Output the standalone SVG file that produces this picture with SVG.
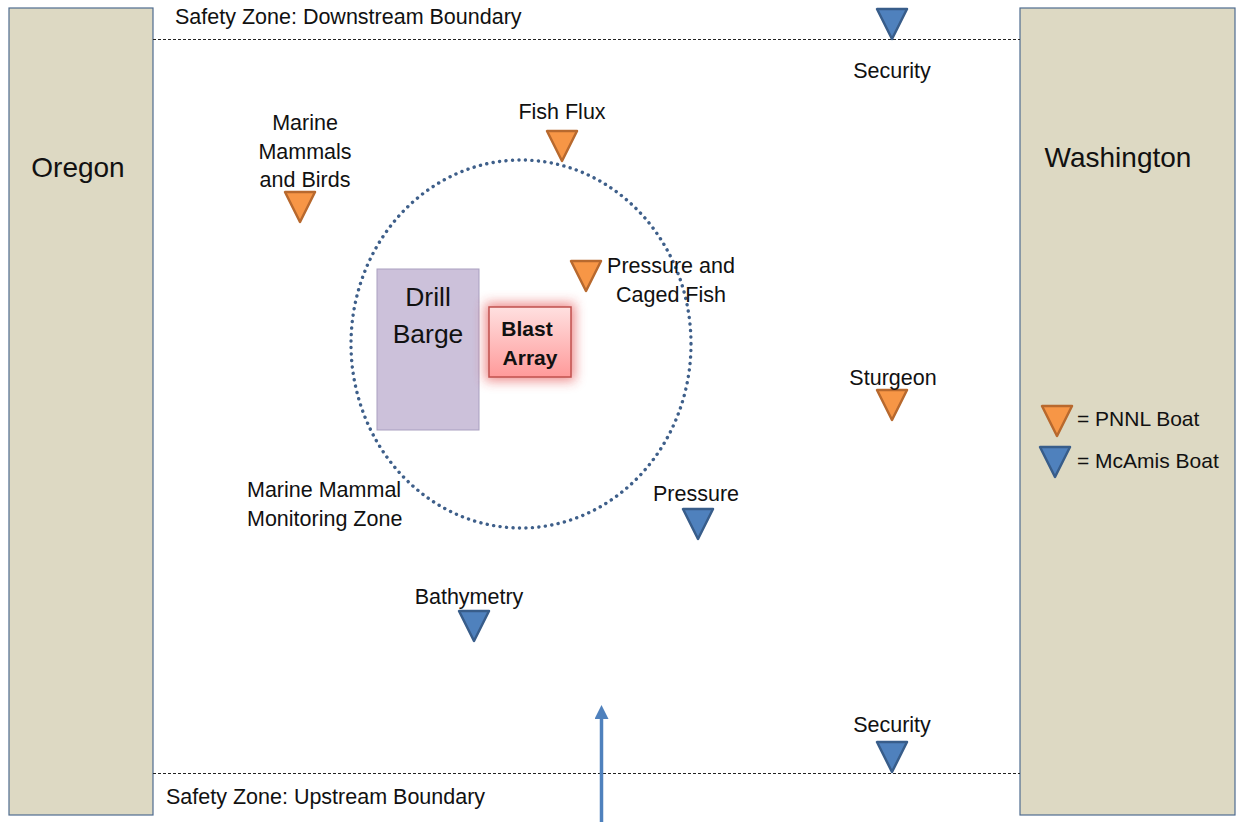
<svg xmlns="http://www.w3.org/2000/svg" width="1236" height="822" viewBox="0 0 1236 822">
<defs>
<style>
text{font-family:"Liberation Sans",Arial,sans-serif;fill:#111;}
.lbl{font-size:21.5px;}
.mid{text-anchor:middle;}
.big{font-size:28px;}
.shore{fill:#DDD9C3;stroke:#4F6C8F;stroke-width:1.2;}
.bound{stroke:#222;stroke-width:1;stroke-dasharray:3,2;fill:none;}
.pnnl{fill:#F79646;stroke:#B8692E;stroke-width:2.5;stroke-linejoin:round;}
.mcamis{fill:#4F81BD;stroke:#385D8A;stroke-width:2.5;stroke-linejoin:round;}
</style>
<linearGradient id="blastGrad" x1="0" y1="0" x2="0" y2="1">
<stop offset="0" stop-color="#FFE0E0"/>
<stop offset="1" stop-color="#FF9A9A"/>
</linearGradient>
<filter id="glow" x="-40%" y="-40%" width="180%" height="180%">
<feGaussianBlur stdDeviation="6"/>
</filter>
<marker id="arrowHead" viewBox="0 0 10 10" refX="5" refY="5" markerWidth="4" markerHeight="4" orient="auto">
<path d="M0,0 L10,5 L0,10 z" fill="#4F81BD"/>
</marker>
<path id="tri" d="M-15,0 L15,0 L0,30 Z"/>
</defs>
<rect width="1236" height="822" fill="#FFFFFF"/>

<g id="oregon">
<rect class="shore" x="9" y="8" width="144" height="807"/>
<text class="big mid" x="78" y="177">Oregon</text>
</g>
<g id="washington">
<rect class="shore" x="1020" y="8" width="215" height="807"/>
<text class="big mid" x="1118" y="167">Washington</text>
</g>

<g id="boundaries">
<line class="bound" x1="153" y1="39.5" x2="1020" y2="39.5"/>
<line class="bound" x1="153" y1="773.5" x2="1020" y2="773.5"/>
<text class="lbl" x="175" y="24">Safety Zone: Downstream Boundary</text>
<text class="lbl" x="166" y="804">Safety Zone: Upstream Boundary</text>
</g>

<g id="monitoring-zone">
<ellipse cx="521" cy="344" rx="170" ry="184" fill="none" stroke="#3E5F8A" stroke-width="3.4" stroke-dasharray="0.1,6.4" stroke-linecap="round"/>
<text class="lbl" x="247" y="497">Marine Mammal</text>
<text class="lbl" x="247" y="526">Monitoring Zone</text>
</g>

<g id="drill-barge">
<rect x="377" y="269" width="102" height="161" fill="#CCC1DA" stroke="#A99FC0" stroke-width="1"/>
<text class="mid" font-size="26.5" x="428" y="306">Drill</text>
<text class="mid" font-size="26.5" x="428" y="343">Barge</text>
</g>

<g id="blast-array">
<rect x="485" y="303" width="90" height="78" fill="#E03030" opacity="0.55" filter="url(#glow)"/>
<rect x="489" y="307" width="82" height="70" fill="url(#blastGrad)" stroke="#C0504D" stroke-width="1.5"/>
<text class="mid" font-size="21" x="527" y="336" font-weight="bold">Blast</text>
<text class="mid" font-size="21" x="530" y="365" font-weight="bold">Array</text>
</g>

<g id="security-downstream">
<use href="#tri" class="mcamis" x="892" y="9"/>
<text class="lbl mid" x="892" y="78">Security</text>
</g>
<g id="fish-flux">
<use href="#tri" class="pnnl" x="562" y="131"/>
<text class="lbl mid" x="562" y="119">Fish Flux</text>
</g>
<g id="marine-mammals-birds">
<use href="#tri" class="pnnl" x="300" y="192"/>
<text class="lbl mid" x="305" y="130">Marine</text>
<text class="lbl mid" x="305" y="159">Mammals</text>
<text class="lbl mid" x="305" y="187">and Birds</text>
</g>
<g id="pressure-caged-fish">
<use href="#tri" class="pnnl" x="586" y="261"/>
<text class="lbl mid" x="671" y="273">Pressure and</text>
<text class="lbl mid" x="671" y="302">Caged Fish</text>
</g>
<g id="sturgeon">
<use href="#tri" class="pnnl" x="892" y="390"/>
<text class="lbl mid" x="893" y="385">Sturgeon</text>
</g>
<g id="pressure">
<use href="#tri" class="mcamis" x="698" y="509"/>
<text class="lbl mid" x="696" y="501">Pressure</text>
</g>
<g id="bathymetry">
<use href="#tri" class="mcamis" x="474" y="611"/>
<text class="lbl mid" x="469" y="604">Bathymetry</text>
</g>
<g id="security-upstream">
<use href="#tri" class="mcamis" x="892" y="742"/>
<text class="lbl mid" x="892" y="732">Security</text>
</g>

<g id="legend">
<use href="#tri" class="pnnl" x="1057" y="406"/>
<text font-size="21" x="1077" y="426">= PNNL Boat</text>
<use href="#tri" class="mcamis" x="1055" y="447"/>
<text font-size="21" x="1077" y="468">= McAmis Boat</text>
</g>

<g id="connectors">
<line x1="601.5" y1="822" x2="601.5" y2="712" stroke="#4F81BD" stroke-width="3.5" marker-end="url(#arrowHead)"/>
</g>
</svg>
